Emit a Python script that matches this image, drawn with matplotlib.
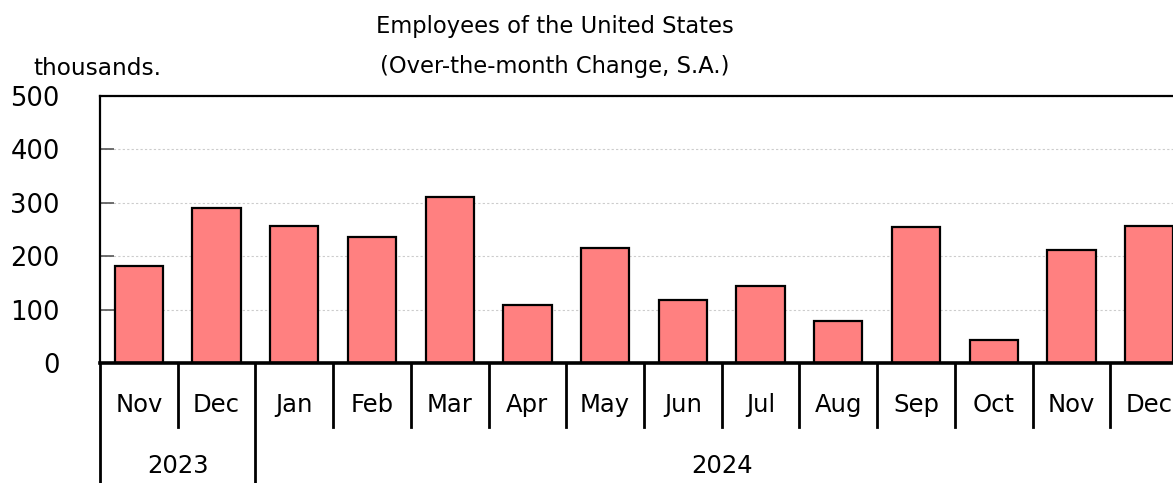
import matplotlib
matplotlib.use("Agg")
import matplotlib.pyplot as plt
from matplotlib.transforms import blended_transform_factory

months = ["Nov", "Dec", "Jan", "Feb", "Mar", "Apr", "May", "Jun",
          "Jul", "Aug", "Sep", "Oct", "Nov", "Dec"]
years = ["2023", "2024"]
year_counts = [2, 12]
changes = [182, 290, 256, 236, 310, 108, 216, 118, 144, 78, 254, 43, 212, 256]
yticks = [0, 100, 200, 300, 400, 500]

W, H = 1173, 483
fig = plt.figure(figsize=(W / 100, H / 100), dpi=100)
# plot area runs past the right edge of the picture, as in the source
ax = fig.add_axes([100 / W, 1 - 363 / H, 1088 / W, 267 / H])

x = list(range(len(months)))
ax.bar(x, changes, width=0.62, color="#ff8080", edgecolor="black", linewidth=1.6, zorder=3)

ax.set_xlim(-0.5, len(months) - 0.5)
ax.set_ylim(0, 500)
ax.set_yticks(yticks)
ax.set_yticklabels([str(t) for t in yticks], fontsize=18.5)
ax.tick_params(axis="y", direction="in", length=10, width=1.2, color="#555555", pad=29)
ax.set_xticks([])

ax.grid(axis="y", color="#cccccc", linestyle=(0, (2, 2)), linewidth=0.8, zorder=0)
for side in ("top", "left", "right"):
    ax.spines[side].set_linewidth(1.6)
ax.spines["bottom"].set_linewidth(2.6)
ax.spines["bottom"].set_zorder(4)

tr = blended_transform_factory(ax.transData, ax.transAxes)
month_drop = -64 / 267
year_drop = -125 / 267
year_edges = [-0.5]
for n in year_counts:
    year_edges.append(year_edges[-1] + n)

for i in range(len(months) + 1):
    xe = i - 0.5
    bottom = year_drop if xe in year_edges else month_drop
    ax.plot([xe, xe], [0, bottom], transform=tr, color="black", lw=2, clip_on=False)

for i, m in enumerate(months):
    ax.text(i, -42 / 267, m, transform=tr, ha="center", va="center", fontsize=17.5)

for k, yr in enumerate(years):
    mid = (year_edges[k] + year_edges[k + 1]) / 2
    ax.text(mid, -103 / 267, yr, transform=tr, ha="center", va="center", fontsize=17.5)

fig.text(555 / W, 1 - 26 / H, "Employees of the United States", ha="center", va="center", fontsize=16.3)
fig.text(555 / W, 1 - 66 / H, "(Over-the-month Change, S.A.)", ha="center", va="center", fontsize=16.3)
fig.text(33 / W, 1 - 69 / H, "thousands.", ha="left", va="center", fontsize=16.7)

fig.savefig("out.png", dpi=100)
